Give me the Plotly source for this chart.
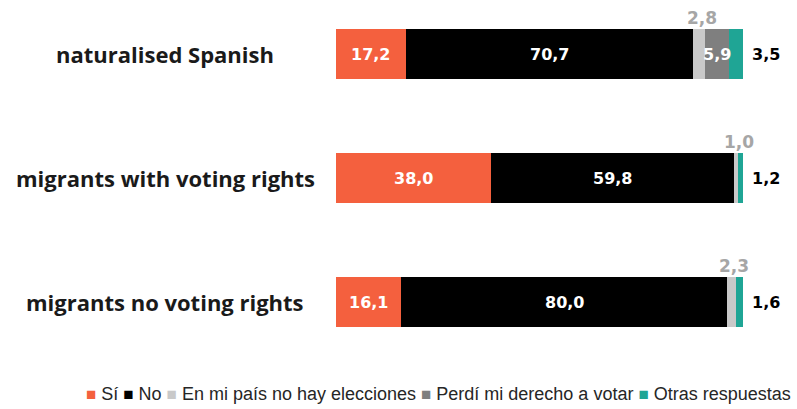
import plotly.graph_objects as go

# Survey answers by group (percent), stacked left to right
categories = ["naturalised Spanish", "migrants with voting rights", "migrants no voting rights"]
series_names = ["Sí", "No", "En mi país no hay elecciones", "Perdí mi derecho a votar", "Otras respuestas"]
si = [17.2, 38.0, 16.1]
no = [70.7, 59.8, 80.0]
sin_elecciones = [2.8, 1.0, 2.3]
perdi_derecho = [5.9, 0.0, 0.0]
otras = [3.5, 1.2, 1.6]

colors = ["#f4603e", "#000000", "#c9c9c9", "#7f7f7f", "#1fa595"]
series = [si, no, sin_elecciones, perdi_derecho, otras]

W, H = 797, 409
L, R, T, B = 336, 54, 10, 49
plot_h = H - T - B
x_max = max(sum(vals[i] for vals in series) for i in range(len(categories)))


def fmt(v):
    return f"{v:.1f}".replace(".", ",")


fig = go.Figure()
for name, vals, col in zip(series_names, series, colors):
    fig.add_trace(go.Bar(
        y=categories, x=vals, name=name, orientation="h",
        marker=dict(color=col, line=dict(width=0)),
        hoverinfo="x+name", showlegend=False,
    ))

label_font = dict(family="DejaVu Sans", size=16, color="white")
annotations = []
for i, cat in enumerate(categories):
    start = 0.0
    for k, vals in enumerate(series):
        v = vals[i]
        mid = start + v / 2
        end = start + v
        if v > 0:
            if k in (0, 1, 3):
                annotations.append(dict(
                    x=mid, y=cat, xref="x", yref="y", text=f"<b>{fmt(v)}</b>",
                    showarrow=False, font=label_font, xanchor="center", yanchor="middle"))
            elif k == 2:
                annotations.append(dict(
                    x=mid, y=cat, xref="x", yref="y", text=f"<b>{fmt(v)}</b>",
                    showarrow=False, font=dict(family="DejaVu Sans", size=17, color="#a6a6a6"),
                    xanchor="center", yanchor="bottom", xshift=3, yshift=24))
            else:
                annotations.append(dict(
                    x=min(end, x_max), y=cat, xref="x", yref="y", text=f"<b>{fmt(v)}</b>",
                    showarrow=False, font=dict(family="DejaVu Sans", size=16, color="#000000"),
                    xanchor="left", yanchor="middle", xshift=7))
        start = end
    # group name, centred in the left margin
    annotations.append(dict(
        x=(165 - L) / (W - L - R), y=cat, xref="paper", yref="y",
        text=f"<b>{cat}</b>", showarrow=False, xanchor="center", yanchor="middle",
        font=dict(family="Open Sans", size=22, color="#1a1a1a")))

# legend row
parts = []
for name, col in zip(series_names, colors):
    parts.append(f"<span style='color:{col};font-size:17px'>■</span> {name}")
legend_text = " ".join(parts)
annotations.append(dict(
    x=(438 - L) / (W - L - R), y=(H - B - 394) / plot_h, xref="paper", yref="paper",
    text=legend_text, showarrow=False, xanchor="center", yanchor="middle",
    font=dict(family="Liberation Sans", size=18, color="#262626")))

fig.update_layout(
    width=W, height=H,
    margin=dict(l=L, r=R, t=T, b=B),
    barmode="stack", bargap=0.6,
    plot_bgcolor="white", paper_bgcolor="white",
    xaxis=dict(range=[0, x_max], visible=False, fixedrange=True),
    yaxis=dict(type="category", range=[2 + (H - B - 302) / 124, -(54 - T) / 124],
               visible=False, fixedrange=True),
    annotations=annotations,
)

fig.write_html("out.html")
